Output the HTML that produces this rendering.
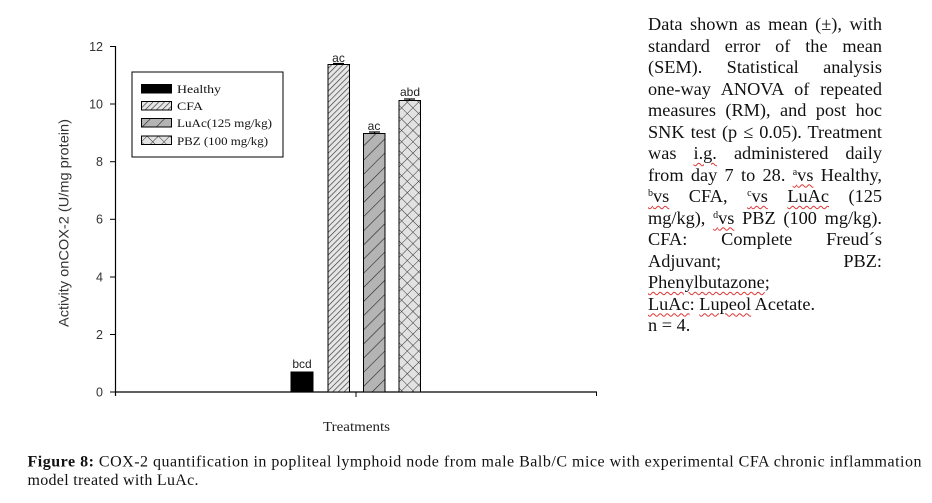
<!DOCTYPE html>
<html>
<head>
<meta charset="utf-8">
<style>
  html,body{margin:0;padding:0;background:#fff;}
  #wrap{position:relative;width:932px;height:503px;overflow:hidden;background:#fff;}
  svg{position:absolute;left:0;top:0;}
  #para{position:absolute;left:648px;top:14px;width:234px;font-family:"Liberation Serif",serif;font-size:18.3px;line-height:21.5px;color:#111;}
  #para div{text-align:justify;text-align-last:justify;white-space:nowrap;}
  #para div.l{text-align:left;text-align-last:left;}
  #para sup{font-size:10px;vertical-align:6px;line-height:0;}
  .w{text-decoration:underline wavy #d33;text-decoration-thickness:1px;text-underline-offset:3px;}
</style>
</head>
<body>
<div id="wrap">
<svg width="932" height="503" viewBox="0 0 932 503" xmlns="http://www.w3.org/2000/svg">
  <defs>
    <pattern id="cfa" patternUnits="userSpaceOnUse" width="4" height="4" patternTransform="rotate(45)">
      <rect width="4" height="4" fill="#e6e6e6"/>
      <line x1="0" y1="0" x2="0" y2="4" stroke="#333" stroke-width="1.3"/>
    </pattern>
    <pattern id="luac" patternUnits="userSpaceOnUse" width="10" height="10" patternTransform="rotate(45)">
      <rect width="10" height="10" fill="#b4b4b4"/>
      <line x1="0" y1="0" x2="0" y2="10" stroke="#222" stroke-width="1.2"/>
    </pattern>
    <pattern id="pbz" patternUnits="userSpaceOnUse" width="8" height="8" patternTransform="rotate(45)">
      <rect width="8" height="8" fill="#e2e2e2"/>
      <line x1="0" y1="0" x2="0" y2="8" stroke="#333" stroke-width="1"/>
      <line x1="0" y1="0" x2="8" y2="0" stroke="#333" stroke-width="1"/>
    </pattern>
  </defs>

  <!-- axes -->
  <line x1="115.5" y1="46" x2="115.5" y2="396" stroke="#000" stroke-width="1.2"/>
  <line x1="115" y1="392" x2="597" y2="392" stroke="#000" stroke-width="1.2"/>
  <line x1="356" y1="392" x2="356" y2="397" stroke="#000" stroke-width="1"/>
  <line x1="596.5" y1="392" x2="596.5" y2="396" stroke="#000" stroke-width="1"/>
  <g stroke="#000" stroke-width="1">
    <line x1="110" y1="46.5" x2="115" y2="46.5"/>
    <line x1="110" y1="104" x2="115" y2="104"/>
    <line x1="110" y1="161.7" x2="115" y2="161.7"/>
    <line x1="110" y1="219.3" x2="115" y2="219.3"/>
    <line x1="110" y1="277" x2="115" y2="277"/>
    <line x1="110" y1="334.5" x2="115" y2="334.5"/>
    <line x1="110" y1="392" x2="115" y2="392"/>
  </g>
  <g font-family="Liberation Sans, sans-serif" font-size="12.5" fill="#333" text-anchor="end">
    <text x="103" y="51">12</text>
    <text x="103" y="108.5">10</text>
    <text x="103" y="166">8</text>
    <text x="103" y="223.7">6</text>
    <text x="103" y="281.4">4</text>
    <text x="103" y="339">2</text>
    <text x="103" y="396.5">0</text>
  </g>
  <text transform="translate(68.5,223) rotate(-90)" font-family="Liberation Sans, sans-serif" font-size="14" fill="#333" text-anchor="middle" textLength="208" lengthAdjust="spacingAndGlyphs">Activity onCOX-2 (U/mg protein)</text>

  <!-- legend -->
  <rect x="132" y="72" width="151" height="85" fill="#fff" stroke="#000" stroke-width="1"/>
  <rect x="141.5" y="84.5" width="30" height="8.5" fill="#000" stroke="#000" stroke-width="1"/>
  <rect x="141.5" y="101.5" width="30" height="8.5" fill="url(#cfa)" stroke="#000" stroke-width="1"/>
  <rect x="141.5" y="118.5" width="30" height="8.5" fill="url(#luac)" stroke="#000" stroke-width="1"/>
  <rect x="141.5" y="136" width="30" height="8.5" fill="url(#pbz)" stroke="#000" stroke-width="1"/>
  <g font-family="Liberation Serif, serif" font-size="12" fill="#111">
    <text x="177" y="93" textLength="44" lengthAdjust="spacingAndGlyphs">Healthy</text>
    <text x="177" y="110" textLength="26" lengthAdjust="spacingAndGlyphs">CFA</text>
    <text x="177" y="127" textLength="95" lengthAdjust="spacingAndGlyphs">LuAc(125 mg/kg)</text>
    <text x="177" y="145" textLength="91" lengthAdjust="spacingAndGlyphs">PBZ (100 mg/kg)</text>
  </g>

  <!-- bars -->
  <rect x="291" y="372" width="22" height="20" fill="#000" stroke="#000" stroke-width="1"/>
  <rect x="328" y="64.5" width="21.5" height="327.5" fill="url(#cfa)" stroke="#000" stroke-width="1"/>
  <rect x="363.5" y="133.5" width="21.5" height="258.5" fill="url(#luac)" stroke="#000" stroke-width="1"/>
  <rect x="399" y="100.5" width="21.5" height="291.5" fill="url(#pbz)" stroke="#000" stroke-width="1"/>
  <!-- error caps -->
  <g stroke="#000" stroke-width="1.2">
    <line x1="369" y1="132" x2="380" y2="132"/>
    <line x1="374.5" y1="132" x2="374.5" y2="134"/>
    <line x1="404" y1="99" x2="415" y2="99"/>
    <line x1="409.5" y1="99" x2="409.5" y2="101"/>
    <line x1="333" y1="63.5" x2="344" y2="63.5"/>
  </g>
  <g font-family="Liberation Sans, sans-serif" font-size="12" fill="#222" text-anchor="middle">
    <text x="338.5" y="62">ac</text>
    <text x="374" y="130">ac</text>
    <text x="410" y="96">abd</text>
    <text x="302" y="368">bcd</text>
  </g>

  <text x="356.5" y="431" font-family="Liberation Serif, serif" font-size="14" fill="#222" text-anchor="middle" textLength="67" lengthAdjust="spacingAndGlyphs">Treatments</text>

  <!-- caption -->
  <text x="27.5" y="466.5" font-family="Liberation Serif, serif" font-size="16" fill="#111" textLength="894" lengthAdjust="spacing"><tspan font-weight="bold">Figure 8:</tspan> COX-2 quantification in popliteal lymphoid node from male Balb/C mice with experimental CFA chronic inflammation</text>
  <text x="27.5" y="485" font-family="Liberation Serif, serif" font-size="16" fill="#111" textLength="171" lengthAdjust="spacing">model treated with LuAc.</text>
</svg>

<div id="para">
  <div>Data shown as mean (±), with</div>
  <div>standard error of the mean</div>
  <div>(SEM). Statistical analysis</div>
  <div>one-way ANOVA of repeated</div>
  <div>measures (RM), and post hoc</div>
  <div>SNK test (p ≤ 0.05). Treatment</div>
  <div>was <span class="w">i.g.</span> administered daily</div>
  <div>from day 7 to 28. <span class="w"><sup>a</sup>vs</span> Healthy,</div>
  <div><span class="w"><sup>b</sup>vs</span> CFA, <span class="w"><sup>c</sup>vs</span> <span class="w">LuAc</span> (125</div>
  <div>mg/kg), <span class="w"><sup>d</sup>vs</span> PBZ (100 mg/kg).</div>
  <div>CFA: Complete Freud´s</div>
  <div>Adjuvant; PBZ:</div>
  <div class="l"><span class="w">Phenylbutazone</span>;</div>
  <div class="l"><span class="w">LuAc</span>: <span class="w">Lupeol</span> Acetate.</div>
  <div class="l">n = 4.</div>
</div>
</div>
</body>
</html>
